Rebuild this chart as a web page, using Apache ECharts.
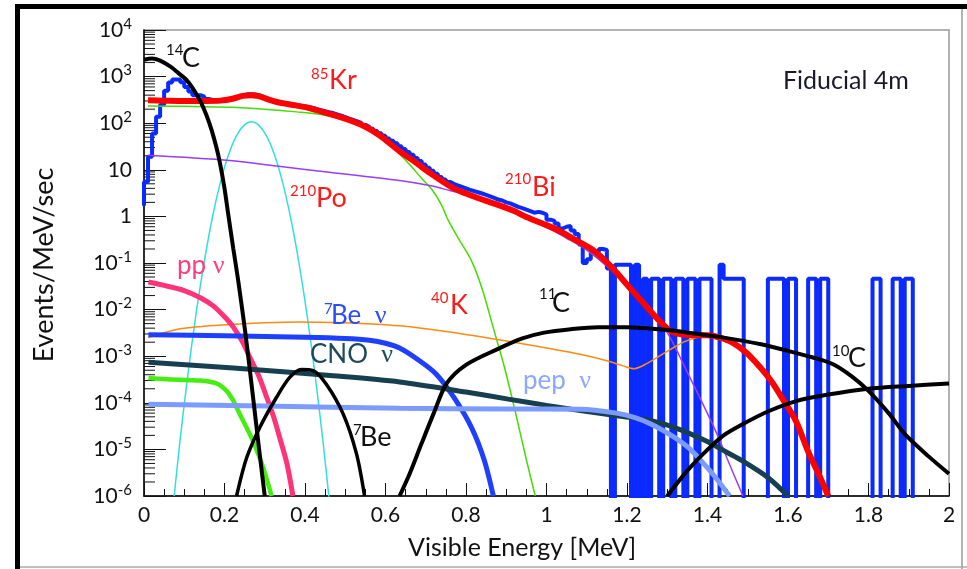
<!DOCTYPE html>
<html><head><meta charset="utf-8">
<script src="https://cdn.jsdelivr.net/npm/echarts@6/dist/echarts.min.js"></script>
<style>html,body{margin:0;padding:0;background:#fff}#c{width:967px;height:569px}</style>
</head><body><div id="c"></div>
<script>
// ---------- axis ----------
const xTicks = [0, 0.2, 0.4, 0.6, 0.8, 1, 1.2, 1.4, 1.6, 1.8, 2];
const yDecades = [-6, -5, -4, -3, -2, -1, 0, 1, 2, 3, 4];

// ---------- histogram (data, 0.01 MeV bins starting at 0) ----------
const histBinWidth = 0.01;
const histStartLevel = 1.7;
const histValues = [
  5.5, 19, 60, 137, 250, 500, 750, 870, 870, 760, 600, 480, 400, 400, 370, 330,
  320, 315, 315, 320, 325, 340, 360, 380, 400, 420, 420, 410, 390, 360,
  330, 300, 290, 280, 270, 262, 255, 245, 235, 228, 220, 212, 200, 190, 180, 172, 165, 155, 145, 135,
  125, 118, 110, 102, 92, 84, 76, 68, 61, 54, 47, 42, 37, 32, 28, 24, 21, 18, 15.5, 13,
  11, 9.5, 8.2, 7, 6.2, 5.5, 5.0, 4.6, 4.3, 4.0, 3.7, 3.5, 3.3, 3.1, 2.9, 2.7, 2.5, 2.3, 2.2, 2.0,
  1.9, 1.75, 1.6, 1.5, 1.4, 1.3, 1.2, 1.25, 1.2, 1.1, 0.85, 0.8, 0.7, 0.55, 0.6, 0.62, 0.5, 0.42, 0.25, 0.1,
  0.12, 0.18, 0.17, 0.2, 0.19,
  // 1.15 ...
  0.076, 0, 0.092, 0.092, 0.092, 0.092, 0, 0.092, 0, 0.046,
  // 1.25 ...
  0, 0.046, 0.046, 0, 0.046, 0.046, 0, 0.046, 0.046, 0,
  // 1.35 ...
  0.046, 0.046, 0, 0.046, 0.046, 0.046, 0, 0, 0.092, 0.046,
  // 1.45 ...
  0.046, 0.046, 0.046, 0.046, 0, 0, 0, 0, 0, 0,
  // 1.55 ...
  0.046, 0.046, 0.046, 0.046, 0, 0.046, 0.046, 0, 0, 0,
  // 1.65 ...
  0.046, 0.046, 0, 0.046, 0.046, 0, 0, 0, 0, 0,
  // 1.75 ...
  0, 0, 0, 0, 0, 0, 0.046, 0.046, 0, 0,
  // 1.85 ...
  0, 0.046, 0.046, 0, 0.046, 0.046, 0
];

// ---------- fitted components [energy MeV, events/MeV/sec] ----------
const totalFit = [[0.01,310],[0.05,305],[0.1,300],[0.15,300],[0.19,305],[0.22,335],[0.245,385],[0.265,400],[0.285,380],[0.31,320],[0.33,285],[0.36,255],[0.41,212],[0.45,168],[0.5,125],[0.55,84],[0.585,55],[0.635,25],[0.668,16],[0.69,11.5],[0.71,8.6],[0.742,5.6],[0.77,4.0],[0.80,3.1],[0.84,2.3],[0.883,1.73],[0.92,1.3],[0.95,0.97],[1.0,0.65],[1.03,0.5],[1.07,0.32],[1.115,0.19],[1.16,0.085],[1.198,0.036],[1.24,0.014],[1.28,0.0058],[1.31,0.0034],[1.34,0.0029],[1.37,0.0028],[1.40,0.0028],[1.43,0.0025],[1.46,0.002],[1.496,0.0012],[1.533,5.5e-4],[1.56,2.8e-4],[1.587,1.2e-4],[1.62,4e-5],[1.65,9e-6],[1.68,2.5e-6],[1.70,1e-6]];
const kr85 = [[0.01,235],[0.1,230],[0.213,220],[0.3,200],[0.379,175],[0.45,148],[0.503,112],[0.55,78],[0.6,45],[0.635,22],[0.66,13],[0.69,6.5],[0.717,3.6],[0.74,1.7],[0.755,0.85],[0.78,0.35],[0.814,0.11],[0.84,0.028],[0.868,4e-3],[0.895,6e-4],[0.922,6.7e-5],[0.95,6e-6],[0.972,1e-6]];
const bi210 = [[0.01,20.4],[0.1,18.5],[0.213,15.9],[0.33,12],[0.46,8.9],[0.635,5.9],[0.71,4.6],[0.759,3.6],[0.8,2.9],[0.85,2.1],[0.9,1.5],[0.95,0.92],[1.0,0.58],[1.05,0.34],[1.1,0.19],[1.15,0.085],[1.2,0.033],[1.25,0.011],[1.3,3.2e-3],[1.35,4.5e-4],[1.398,6.4e-5],[1.424,2.1e-5],[1.45,6e-6],[1.488,1e-6]];
const po210 = [[0.075,1e-6],[0.09,1.7e-5],[0.11,4.7e-4],[0.13,8.9e-3],[0.15,0.11],[0.17,0.96],[0.19,5.5],[0.21,21],[0.23,54],[0.25,93],[0.267,107],[0.285,91],[0.305,52],[0.325,20],[0.345,5.1],[0.365,0.87],[0.385,0.1],[0.405,7.8e-3],[0.425,4e-4],[0.445,1.4e-5],[0.46,8.5e-7]];
const k40 = [[0.01,2.5e-3],[0.05,3.2e-3],[0.09,3.9e-3],[0.15,4.4e-3],[0.22,4.8e-3],[0.3,5.2e-3],[0.387,5.4e-3],[0.47,5.3e-3],[0.553,5e-3],[0.635,4.5e-3],[0.75,3.4e-3],[0.905,2.1e-3],[1.0,1.5e-3],[1.084,1.1e-3],[1.15,8e-4],[1.19,6.2e-4],[1.218,5.4e-4],[1.25,7e-4],[1.28,1e-3],[1.308,1.4e-3],[1.34,2e-3],[1.371,2.5e-3],[1.40,2.6e-3],[1.43,2.35e-3],[1.46,1.85e-3],[1.496,1.1e-3],[1.533,5e-4],[1.56,2.5e-4],[1.587,1.05e-4],[1.62,3.5e-5],[1.65,8e-6],[1.68,2e-6],[1.695,1e-6]];
const c14 = [[0.0,2300],[0.02,2450],[0.04,2200],[0.065,1650],[0.085,1200],[0.106,840],[0.12,580],[0.139,310],[0.155,150],[0.168,71],[0.18,30],[0.189,13.6],[0.2,4],[0.209,1.15],[0.222,0.2],[0.234,0.042],[0.251,3.6e-3],[0.262,6e-4],[0.271,1.3e-4],[0.285,1.2e-5],[0.30,1e-6]];
const be7 = [[0.23,1e-6],[0.255,6.6e-6],[0.288,3e-5],[0.329,1.3e-4],[0.362,3.5e-4],[0.391,5.2e-4],[0.42,4.9e-4],[0.453,2.5e-4],[0.495,5.7e-5],[0.528,8e-6],[0.548,1e-6]];
const c11 = [[0.635,1e-6],[0.66,3e-6],[0.689,1.3e-5],[0.72,6e-5],[0.752,2.6e-4],[0.8,6.5e-4],[0.877,1.4e-3],[0.94,2.4e-3],[0.994,3.2e-3],[1.06,3.8e-3],[1.129,4.2e-3],[1.2,4.2e-3],[1.308,3.6e-3],[1.363,3.1e-3],[1.43,2.6e-3],[1.533,1.8e-3],[1.6,1.3e-3],[1.66,9.5e-4],[1.712,6.7e-4],[1.76,3.6e-4],[1.80,1.8e-4],[1.85,6e-5],[1.891,2.1e-5],[1.95,7e-6],[2.0,3e-6]];
const c10 = [[1.30,1e-6],[1.35,3.5e-6],[1.397,9.3e-6],[1.44,2e-5],[1.488,3.5e-5],[1.55,6.5e-5],[1.622,1.1e-4],[1.7,1.5e-4],[1.8,2e-4],[1.9,2.3e-4],[2.0,2.6e-4]];
const ppNu = [[0.011,0.039],[0.05,0.033],[0.098,0.026],[0.14,0.018],[0.172,0.012],[0.2,7e-3],[0.222,4.2e-3],[0.245,2e-3],[0.263,9.4e-4],[0.285,3.8e-4],[0.305,1.3e-4],[0.322,5e-5],[0.337,1.8e-5],[0.355,5e-6],[0.37,1e-6]];
const lowGreen = [[0.011,3.4e-4],[0.056,3.2e-4],[0.139,3e-4],[0.18,2.6e-4],[0.205,1.8e-4],[0.222,1.1e-4],[0.238,5.7e-5],[0.255,2.9e-5],[0.271,1.5e-5],[0.296,4.1e-6],[0.317,1e-6]];
const be7Nu = [[0.011,2.9e-3],[0.2,2.75e-3],[0.4,2.55e-3],[0.5,2.4e-3],[0.56,2.2e-3],[0.6,1.9e-3],[0.635,1.5e-3],[0.68,8.5e-4],[0.725,4.2e-4],[0.77,1.3e-4],[0.814,2.9e-5],[0.845,6e-6],[0.868,1e-6]];
const cnoNu = [[0.011,7.4e-4],[0.222,5.6e-4],[0.47,3.8e-4],[0.635,2.8e-4],[0.8,1.7e-4],[0.905,1.2e-4],[1.0,8.8e-5],[1.084,6.8e-5],[1.18,5.2e-5],[1.263,4.1e-5],[1.33,2.7e-5],[1.398,1.5e-5],[1.45,8.5e-6],[1.488,5.6e-6],[1.55,2.5e-6],[1.6,1e-6]];
const pepNu = [[0.011,9.3e-5],[0.3,8.5e-5],[0.635,7.6e-5],[0.9,7.4e-5],[1.084,7.3e-5],[1.174,6e-5],[1.22,4.8e-5],[1.263,3.4e-5],[1.31,2e-5],[1.352,1.1e-5],[1.39,5e-6],[1.42,2.5e-6],[1.455,1e-6]];

// ---------- build histogram outline ----------
const EMPTY = 1e-9; // empty bins drop below the axis
const histPts = [[0, histStartLevel]];
histValues.forEach((v, i) => histPts.push([+(i * histBinWidth).toFixed(4), v > 0 ? v : EMPTY]));
histPts.push([+(histValues.length * histBinWidth).toFixed(4), EMPTY]);

const yMinor = [];
for (let k = 0; k < yDecades.length - 1; k++) for (let m = 2; m <= 9; m++) yMinor.push([0, m * Math.pow(10, yDecades[k])]);

const FONT = 'Lato';
function curve(data, color, width, z, smooth) {
  return { type: 'line', data, symbol: 'none', smooth: smooth == null ? 0.3 : smooth, lineStyle: { color, width }, z, silent: true, clip: true };
}

const chart = echarts.init(document.getElementById('c'), null, { renderer: 'canvas' });

function supLabel(sup, main, sx, sy, mx, my, color, mainRich) {
  const els = [];
  if (sup) els.push({ type: 'text', left: sx, top: sy - 9, z: 100, style: { text: sup, fontFamily: FONT, fontSize: 15, fill: color } });
  els.push({ type: 'text', left: mx, top: my - 17, z: 100, style: Object.assign({ text: main, fontFamily: FONT, fontSize: 27, fill: color }, mainRich || {}) });
  return els;
}
const nuRich = (color) => ({ rich: { a: { fontFamily: FONT, fontSize: 26, fill: color, color: color }, n: { fontFamily: 'Liberation Serif', fontSize: 26, fill: color, color: color } } });

const graphics = [
  { type: 'rect', shape: { x: 15, y: 4, width: 952, height: 5 }, style: { fill: '#000' }, z: 100 },
  { type: 'rect', shape: { x: 15, y: 4, width: 5, height: 565 }, style: { fill: '#000' }, z: 100 },
  { type: 'line', shape: { x1: 962, y1: 9, x2: 962, y2: 569 }, style: { stroke: '#999', lineWidth: 1.5 }, z: 100 },
  { type: 'line', shape: { x1: 20, y1: 567, x2: 967, y2: 567 }, style: { stroke: '#aaa', lineWidth: 1.5 }, z: 100 },
  { type: 'text', left: 783, top: 68, z: 100, style: { text: 'Fiducial 4m', fontFamily: FONT, fontSize: 25, fill: '#1a1a2a' } },
  { type: 'text', left: 408, top: 535, z: 100, style: { text: 'Visible Energy [MeV]', fontFamily: FONT, fontSize: 25, fill: '#111' } },
  { type: 'text', x: 44, y: 265, rotation: Math.PI / 2, z: 100, style: { text: 'Events/MeV/sec', fontFamily: FONT, fontSize: 27, fill: '#111', align: 'center', verticalAlign: 'middle' } },
  ...supLabel('14', 'C', 166, 52, 182, 62, '#111'),
  ...supLabel('85', 'Kr', 311, 76, 329, 84, '#ff1a1a'),
  ...supLabel('210', 'Po', 290, 193, 316, 202, '#ff1a1a'),
  ...supLabel('210', 'Bi', 505, 181, 532, 191, '#ff1a1a'),
  ...supLabel('40', 'K', 431, 300, 450, 309, '#ff1a1a'),
  ...supLabel('11', 'C', 539, 296, 552, 307, '#111'),
  ...supLabel('10', 'C', 832, 353, 848, 362, '#111'),
  ...supLabel('7', 'Be', 353, 432, 360, 441, '#111'),
  ...supLabel(null, '{a|pp }{n|ν}', 0, 0, 177, 270, '#ff3d7f', nuRich('#ff3d7f')),
  ...supLabel('7', '{a|Be  }{n|ν}', 324, 311, 331, 320, '#2b4bff', nuRich('#2b4bff')),
  ...supLabel(null, '{a|CNO  }{n|ν}', 0, 0, 310, 359, '#1d4a5a', nuRich('#1d4a5a')),
  ...supLabel(null, '{a|pep  }{n|ν}', 0, 0, 523, 385, '#8aa8ff', nuRich('#8aa8ff'))
];

chart.setOption({
  animation: false,
  backgroundColor: '#fff',
  grid: { left: 144, top: 30, width: 805, height: 466, show: true, borderColor: '#9a9a9a', borderWidth: 1.5, containLabel: false },
  xAxis: {
    type: 'value', min: xTicks[0], max: xTicks[xTicks.length - 1], interval: 0.2,
    axisLine: { show: true, lineStyle: { color: '#000', width: 1.5 } },
    axisTick: { show: true, inside: true, length: 13, lineStyle: { color: '#111', width: 1 } },
    minorTick: { show: true, splitNumber: 4, length: 7, lineStyle: { color: '#111', width: 1 } },
    splitLine: { show: false },
    axisLabel: { fontFamily: FONT, fontSize: 21, color: '#111', margin: 9, formatter: v => String(+v.toFixed(1)) }
  },
  yAxis: {
    type: 'log', logBase: 10, min: Math.pow(10, yDecades[0]), max: Math.pow(10, yDecades[yDecades.length - 1]), interval: 1,
    axisLine: { show: true, lineStyle: { color: '#000', width: 1.5 } },
    axisTick: { show: true, inside: true, length: 22, lineStyle: { color: '#111', width: 1 } },
    splitLine: { show: false },
    axisLabel: {
      fontFamily: FONT, fontSize: 21, color: '#111', margin: 12,
      formatter: v => { const e = Math.round(Math.log10(v)); if (e === 0) return '1'; if (e === 1) return '10'; return '10{s|' + e + '}'; },
      rich: { s: { fontFamily: FONT, fontSize: 15, color: '#111', padding: [0, 0, 12, 0] } }
    }
  },
  graphic: graphics,
  series: [
    { type: 'custom', data: yMinor, clip: false, silent: true, z: 3,
      renderItem: (p, api) => { const c = api.coord([api.value(0), api.value(1)]); return { type: 'line', shape: { x1: c[0], y1: c[1], x2: c[0] + 11, y2: c[1] }, style: { stroke: '#111', lineWidth: 1 } }; } },
    { type: 'line', data: histPts, step: 'end', symbol: 'none', lineStyle: { color: '#0a2aff', width: 4 }, z: 4, clip: true, silent: true },
    curve(po210, '#33dede', 1.5, 5),
    curve(kr85, '#44dd00', 1.5, 5),
    curve(bi210, '#9a3cf0', 1.5, 5),
    curve(k40, '#ff8a10', 1.5, 5),
    curve(totalFit, '#ff0000', 6, 6),
    curve(lowGreen, '#44ee11', 4.5, 7),
    curve(ppNu, '#ff3377', 5, 7),
    curve(be7Nu, '#1f3fff', 5, 7),
    curve(cnoNu, '#163f50', 5, 7),
    curve(pepNu, '#7b9bff', 5, 7),
    curve(c14, '#000', 4, 8),
    curve(be7, '#000', 3.5, 8),
    curve(c11, '#000', 4, 8),
    curve(c10, '#000', 4, 8)
  ]
});
</script></body></html>
